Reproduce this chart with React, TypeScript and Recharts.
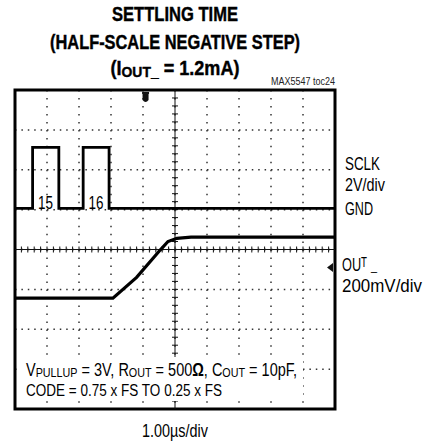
import { ComposedChart, Line, XAxis, YAxis, CartesianGrid, ReferenceLine, ReferenceArea, ReferenceDot } from "recharts";

// time in µs (1 µs/div), level in screen divisions (centre = 0)
const sclkTime = [0, 0.55, 0.55, 1.37, 1.37, 2.13, 2.13, 2.94, 2.94, 10];
const sclkLevel = [1.03, 1.03, 2.56, 2.56, 1.03, 1.03, 2.56, 2.56, 1.03, 1.03];

const outTime = [0, 3.06, 3.8, 4.53, 4.78, 5.06, 5.5, 10];
const outLevel = [-1.22, -1.22, -0.7, -0.02, 0.2, 0.28, 0.31, 0.31];

const xTicks = [0, 1, 2, 3, 4, 5, 6, 7, 8, 9, 10];
const yTicks = [-4, -3, -2, -1, 0, 1, 2, 3, 4];

const clockLabels = ["15", "16"];
const clockLabelAt = [0.72, 2.3];

const triggerAt = { t: 4.08, level: 3.8 };
const outMarkerAt = { t: 10, level: -0.45 };

const sclkData = sclkTime.map((t, i) => ({ t, v: sclkLevel[i] }));
const outData = outTime.map((t, i) => ({ t, v: outLevel[i] }));

const FONT = '"Liberation Sans", Arial, Helvetica, sans-serif';
const FIT = "spacingAndGlyphs";
const NARROW = 0.82;
const NARROW_BOLD = 0.84;

// condensed text: squeeze a normal face horizontally, then fit to the measured width
function Narrow({ x, y, w, s = NARROW, anchor = "start", children, ...rest }: any) {
  return (
    <g transform={`translate(${x},${y}) scale(${s},1)`}>
      <text x={0} y={0} textAnchor={anchor} textLength={w / s} lengthAdjust={FIT} {...rest}>
        {children}
      </text>
    </g>
  );
}

function TickedAxis(props: any) {
  const { x1, y1, x2, y2 } = props;
  const horiz = Math.abs(y1 - y2) < 1;
  const len = horiz ? x2 - x1 : y2 - y1;
  const n = horiz ? 50 : 40;
  const step = len / n;
  const marks = [];
  for (let i = 1; i < n; i++) {
    if (horiz) {
      const x = x1 + i * step;
      marks.push(<line key={i} x1={x} x2={x} y1={y1 - 3} y2={y1 + 3} stroke="#111" strokeWidth={1} />);
    } else {
      const y = Math.min(y1, y2) + i * Math.abs(step);
      marks.push(<line key={i} x1={x1 - 3} x2={x1 + 3} y1={y} y2={y} stroke="#111" strokeWidth={1} />);
    }
  }
  return (
    <g>
      <line x1={x1} y1={y1} x2={x2} y2={y2} stroke="#111" strokeWidth={1} />
      {marks}
    </g>
  );
}

function TriggerMark(props: any) {
  const { cx, cy } = props;
  return (
    <g>
      <rect x={cx - 3.5} y={cy - 6} width={7} height={2} fill="#111" />
      <path d={`M${cx - 3},${cy - 4} L${cx + 3},${cy - 4} L${cx + 3},${cy + 2} Q${cx},${cy + 6} ${cx - 3},${cy + 2} Z`} fill="#111" />
    </g>
  );
}

function LevelMark(props: any) {
  const { cx, cy } = props;
  return <path d={`M${cx - 8},${cy} L${cx - 2},${cy - 4.5} L${cx - 2},${cy + 4.5} Z`} fill="#111" />;
}

function ClockLabel(props: any) {
  const { cx, cy, text } = props;
  return (
    <Narrow x={cx} y={cy + 1} w={15} fontFamily={FONT} fontSize={18.5} fill="#000">
      {text}
    </Narrow>
  );
}

export default function App() {
  return (
    <div style={{ position: "relative", width: 425, height: 443, background: "#fff" }}>
      <style>{"body{margin:0}"}</style>
      <ComposedChart width={425} height={443} margin={{ top: 90, right: 90, bottom: 34, left: 15 }}>
        <XAxis type="number" dataKey="t" domain={[0, 10]} ticks={xTicks} hide />
        <YAxis type="number" domain={[-4, 4]} ticks={yTicks} hide />
        <CartesianGrid vertical={false} stroke="#333" strokeWidth={1.5} strokeDasharray="1.5 4.9" />
        <CartesianGrid horizontal={false} stroke="#333" strokeWidth={1.5} strokeDasharray="1.5 6.48" />
        <ReferenceLine y={0} shape={TickedAxis} />
        <ReferenceLine x={5} shape={TickedAxis} />
        <Line data={sclkData} dataKey="v" type="linear" stroke="#000" strokeWidth={2.8} dot={false} isAnimationActive={false} />
        <Line data={outData} dataKey="v" type="linear" stroke="#000" strokeWidth={3.2} dot={false} isAnimationActive={false} />
        {clockLabels.map((c, i) => (
          <ReferenceDot key={c} x={clockLabelAt[i]} y={1.03} shape={(p: any) => <ClockLabel {...p} text={c} />} />
        ))}
        <ReferenceDot x={triggerAt.t} y={triggerAt.level} shape={TriggerMark} />
        <ReferenceDot x={outMarkerAt.t} y={outMarkerAt.level} shape={LevelMark} />
        <ReferenceArea x1={0} x2={10} y1={-4} y2={4} fill="none" stroke="#000" strokeWidth={3} />
      </ComposedChart>
      <svg width={425} height={443} style={{ position: "absolute", left: 0, top: 0, pointerEvents: "none" }} fontFamily={FONT}>
        <g fontWeight="bold" fontSize={19.5} fill="#000" stroke="#000" strokeWidth={0.4}>
          <Narrow x={175} y={21} w={126} s={NARROW_BOLD} anchor="middle">SETTLING TIME</Narrow>
          <Narrow x={175} y={49} w={250} s={NARROW_BOLD} anchor="middle">(HALF-SCALE NEGATIVE STEP)</Narrow>
          <Narrow x={175} y={75} w={129} s={NARROW_BOLD} anchor="middle">
            (I<tspan fontSize={15} dy={2}>OUT_</tspan>
            <tspan dy={-2}> = 1.2mA)</tspan>
          </Narrow>
        </g>
        <Narrow x={335} y={85} w={64} anchor="end" fontSize={11} fill="#222">MAX5547 toc24</Narrow>
        <g fontSize={18.5} fill="#000">
          <Narrow x={345} y={170} w={35}>SCLK</Narrow>
          <Narrow x={345} y={191} w={40}>2V/div</Narrow>
          <Narrow x={345} y={215} w={28}>GND</Narrow>
          <Narrow x={342} y={271} w={25}>
            OU<tspan fontSize={14} dy={-4}>T</tspan>
          </Narrow>
          <Narrow x={371} y={270} w={6} fontSize={13}>_</Narrow>
          <Narrow x={342} y={292} w={80}>200mV/div</Narrow>
        </g>
        <rect x={21} y={357} width={282} height={44} fill="#fff" />
        <g fill="#000">
          <Narrow x={26} y={376} w={271} fontSize={17.5}>
            V<tspan fontSize={13} dy={1}>PULLUP</tspan>
            <tspan dy={-1}> = 3V, R</tspan>
            <tspan fontSize={13} dy={1}>OUT</tspan>
            <tspan dy={-1}> = 500</tspan>
            <tspan fontWeight="bold">Ω</tspan>
            <tspan>, C</tspan>
            <tspan fontSize={13} dy={1}>OUT</tspan>
            <tspan dy={-1}> = 10pF,</tspan>
          </Narrow>
          <Narrow x={26} y={396} w={196} fontSize={17}>CODE = 0.75 x FS TO 0.25 x FS</Narrow>
        </g>
        <Narrow x={175} y={437} w={66} anchor="middle" fontSize={17.5} fill="#000">1.00µs/div</Narrow>
      </svg>
    </div>
  );
}
